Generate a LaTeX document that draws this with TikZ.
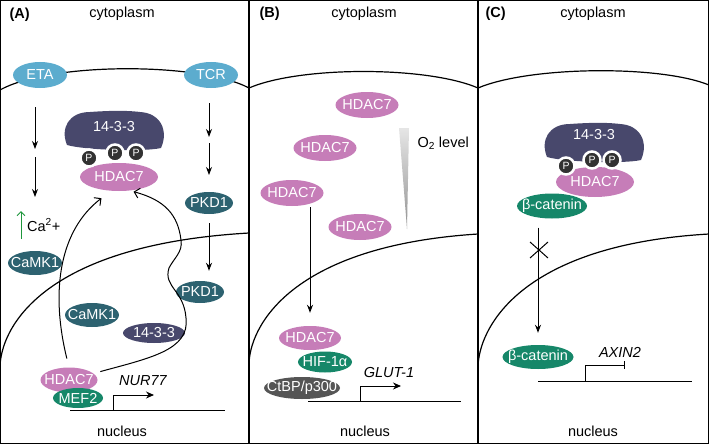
\documentclass[tikz,border=0pt]{standalone}
\usepackage{fontspec}
\setmainfont{Liberation Sans}
\usetikzlibrary{shapes.geometric,arrows.meta}

\definecolor{rcpblue}{RGB}{92,172,206}
\definecolor{kinteal}{RGB}{45,98,112}
\definecolor{adslate}{RGB}{72,72,108}
\definecolor{hdpink}{RGB}{198,125,184}
\definecolor{tfgreen}{RGB}{22,135,105}
\definecolor{cogray}{RGB}{85,85,85}
\definecolor{phgray}{RGB}{50,50,50}
\definecolor{upgreen}{RGB}{30,150,60}

\newcommand\lbl{\fontsize{14.5}{17}\selectfont}

\begin{document}
\begin{tikzpicture}[x=1pt,y=-1pt,font=\lbl]
	\tikzset{prot/.style={ellipse, inner xsep=-30pt, inner ysep=0pt, text=white},
		phos/.style={circle, fill=phgray, draw=white, line width=2.5pt, minimum size=17pt, inner sep=0pt, text=white, font=\fontsize{10.5}{10.5}\selectfont},
		arr/.style={line width=1pt, -{Stealth[length=8pt,width=6pt]}},
		curv/.style={line width=1pt, -{Straight Barb[length=5pt,width=10pt]}},
		memb/.style={line width=1.2pt},
		dna/.style={line width=1pt},
		capbody/.pic={\fill[adslate] (-47,15) .. controls (-54,-2) and (-45,-18) .. (-24,-18)
			.. controls (-10,-19) and (10,-20) .. (26,-18)
			.. controls (46,-17) and (55,0) .. (47,18)
			.. controls (30,22) and (-30,20) .. (-47,15) -- cycle;}}

	\useasboundingbox (0,0) rectangle (709,444);

	% frame and panels
	\draw[line width=1.2pt] (0.6,0.6) rectangle (708.4,443.4);
	\draw[line width=1.2pt] (249,0.6) -- (249,443.4);
	\draw[line width=1.2pt] (478,0.6) -- (478,443.4);

	\node[font=\lbl\bfseries, anchor=west] (la) at (6,15) {(A)};
	\node[font=\lbl\bfseries, anchor=west] (lb) at (256,14) {(B)};
	\node[font=\lbl\bfseries, anchor=west] (lc) at (482,14) {(C)};
	\node (cya) at (122,14) {cytoplasm};
	\node (cyb) at (364,14) {cytoplasm};
	\node (cyc) at (593,14) {cytoplasm};
	\node (nua) at (122,431) {nucleus};
	\node (nub) at (365,431) {nucleus};
	\node (nuc) at (593,431) {nucleus};

	% membranes
	\draw[memb] (0,90) .. controls (50,62) and (200,62) .. (249,88);
	\draw[memb] (249,88) .. controls (300,66) and (427,66) .. (478,88);
	\draw[memb] (478,88) .. controls (530,66) and (660,65) .. (709,85);
	\draw[memb] (0,368) .. controls (0,330) and (40,245) .. (249,233);
	\draw[memb] (249,365) .. controls (249,328) and (289,246) .. (478,234);
	\draw[memb] (478,368) .. controls (478,330) and (518,245) .. (709,234);

	% (A)
	\node[prot, fill=rcpblue, minimum width=54, minimum height=26] (eta) at (40,75) {ETA};
	\node[prot, fill=rcpblue, minimum width=54, minimum height=26] (tcr) at (211,75) {TCR};
	\pic at (114,130) {capbody};
	\node[text=white] (capa) at (114,127) {14-3-3};
	\node[prot, fill=hdpink, minimum width=78, minimum height=28] (hdaca) at (119,177) {HDAC7};
	\node[phos] (pa1) at (89,158) {P};
	\node[phos] (pa2) at (115,153) {P};
	\node[phos] (pa3) at (136,153) {P};

	\coordinate (e1) at (35,107);
	\coordinate (e2) at (35,149);
	\coordinate (e3) at (35,157);
	\coordinate (e4) at (35,197);
	\draw[arr] (e1) -- (e2);
	\draw[arr] (e3) -- (e4);
	\coordinate (t1) at (209,103);
	\coordinate (t2) at (209,137);
	\coordinate (t3) at (209,143);
	\coordinate (t4) at (209,175);
	\draw[arr] (t1) -- (t2);
	\draw[arr] (t3) -- (t4);

	\node[anchor=west, inner sep=0pt] (ca) at (27,225) {Ca\textsuperscript{2}+};
	\coordinate (g1) at (21,239);
	\coordinate (g2) at (21,211);
	\draw[line width=1pt, upgreen, -{Straight Barb[length=4pt,width=8pt]}] (g1) -- (g2);

	\node[prot, fill=kinteal, minimum width=54, minimum height=24] (camka) at (35,263) {CaMK1};
	\node[prot, fill=kinteal, minimum width=48, minimum height=22] (pkda) at (209,203) {PKD1};
	\node[prot, fill=kinteal, minimum width=48, minimum height=22] (pkdb) at (200,292) {PKD1};
	\draw[arr, shorten <=9pt, shorten >=10pt] (pkda.south) -- (pkda.south |- pkdb.north);

	\node[prot, fill=kinteal, minimum width=54, minimum height=24] (camkb) at (92,315) {CaMK1};
	\node[prot, fill=adslate, minimum width=62, minimum height=20] (ywhaa) at (154,333) {14-3-3};

	\coordinate (dnaa1) at (70,410);
	\coordinate (dnaa2) at (225,410);
	\draw[dna] (dnaa1) -- (dnaa2);
	\draw[dna, -{Stealth[length=8pt,width=7pt]}] (113,410) -- (113,395) -- (154,395);
	\node[font=\lbl\itshape] (nur) at (143,381) {NUR77};

	\node[prot, fill=hdpink, minimum width=57, minimum height=25] (hdacan) at (69,380) {HDAC7};
	\node[prot, fill=tfgreen, minimum width=50, minimum height=20] (mef) at (78,398) {MEF2};

	\draw[curv, shorten <=9pt, shorten >=12pt] (hdacan.north) .. controls (50,290) and (60,230) .. (hdaca.-120);
	\draw[curv, shorten <=7pt, shorten >=4pt] (hdacan.15) .. controls (150,358) and (190,350) .. (186,318)
		.. controls (184,290) and (163,287) .. (169,268)
		.. controls (174,258) and (183,252) .. (181,240)
		.. controls (178,215) and (165,200) .. (hdaca.-52);

	% (B)
	\node[prot, fill=hdpink, minimum width=63, minimum height=26] (hb1) at (367,105) {HDAC7};
	\node[prot, fill=hdpink, minimum width=63, minimum height=26] (hb2) at (325,148) {HDAC7};
	\node[prot, fill=hdpink, minimum width=63, minimum height=26] (hb3) at (292,193) {HDAC7};
	\node[prot, fill=hdpink, minimum width=63, minimum height=26] (hb4) at (360,227) {HDAC7};
	\shade[top color=gray!20, bottom color=gray!85] (399,128) -- (409,128) -- (407,229) -- cycle;
	\node[anchor=west] (oxy) at (414,143) {O\textsubscript{2} level};

	\node[prot, fill=hdpink, minimum width=62, minimum height=24] (hbn) at (310,338) {HDAC7};
	\node[prot, fill=tfgreen, minimum width=54, minimum height=21] (hif) at (325,362) {HIF-1α};
	\node[prot, fill=cogray, minimum width=76, minimum height=22] (ctbp) at (302,388) {CtBP/p300};
	\draw[arr, shorten <=1pt, shorten >=13pt] (hb3.south -| hbn.north) -- (hbn.north);

	\coordinate (dnab1) at (308,401);
	\coordinate (dnab2) at (461,401);
	\draw[dna] (dnab1) -- (dnab2);
	\draw[dna, -{Stealth[length=8pt,width=7pt]}] (360,401) -- (360,386) -- (401,386);
	\node[font=\lbl\itshape] (glut) at (389,373) {GLUT-1};

	% (C)
	\pic at (594,142) {capbody};
	\node[text=white] (capc) at (594,135) {14-3-3};
	\node[prot, fill=hdpink, minimum width=78, minimum height=30] (hdacc) at (595,182) {HDAC7};
	\node[phos] (pc1) at (566,166) {P};
	\node[phos] (pc2) at (592,160) {P};
	\node[phos] (pc3) at (612,160) {P};
	\node[prot, fill=tfgreen, minimum width=70, minimum height=25] (bcata) at (552,206) {β-catenin};
	\node[prot, fill=tfgreen, minimum width=71, minimum height=24] (bcatb) at (538,357) {β-catenin};
	\draw[arr, shorten <=9pt, shorten >=12pt] (bcatb.north |- bcata.south) -- (bcatb.north);
	\coordinate (blk) at (539,250);
	\draw[line width=1pt] (blk) ++(-9,-8) -- ++(18,16);
	\draw[line width=1pt] (blk) ++(-9,8) -- ++(18,-16);

	\coordinate (dnac1) at (538,381);
	\coordinate (dnac2) at (692,381);
	\draw[dna] (dnac1) -- (dnac2);
	\draw[dna, -{Bar[width=8pt]}] (585,381) -- (585,365) -- (625,365);
	\node[font=\lbl\itshape] (axin) at (620,352) {AXIN2};
\end{tikzpicture}
\end{document}
